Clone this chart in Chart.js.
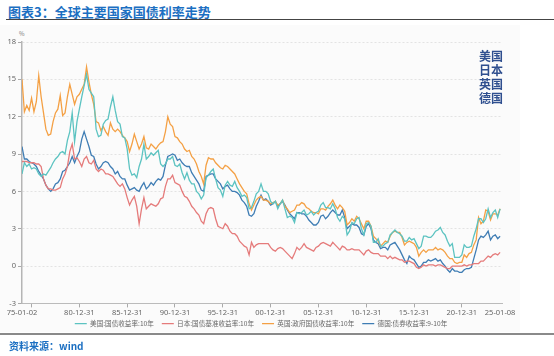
<!DOCTYPE html>
<html><head><meta charset="utf-8">
<script src="https://cdn.jsdelivr.net/npm/chart.js@4.4.1/dist/chart.umd.min.js"></script>
<style>
html,body{margin:0;padding:0;background:#fff;}
body{width:554px;height:356px;position:relative;overflow:hidden;font-family:"Noto Sans CJK SC","Noto Sans",sans-serif;}
#title{position:absolute;left:8px;top:2px;font-size:13px;font-weight:bold;color:#1b6fc2;white-space:nowrap;}
#rule{position:absolute;left:6px;top:19px;width:548px;height:0;border-top:1.5px solid #444;}
#bg{position:absolute;left:0;top:25px;width:520px;height:307px;background:#fbfbfb;}
#wrap{position:absolute;left:0;top:0;width:554px;height:356px;}
#foot{position:absolute;left:0;top:333px;width:554px;height:0;border-top:2.5px solid #8a8a8a;}
#src{position:absolute;left:9px;top:338px;font-size:10px;font-weight:bold;color:#1b6fc2;white-space:nowrap;}
#note{position:absolute;left:479px;top:49px;font-size:12px;font-weight:bold;color:#2f4f8f;line-height:14px;}
#unit{position:absolute;left:19px;top:29px;font-size:6px;color:#777;}
</style></head>
<body>
<div id="bg"></div>
<div id="title">图表3：全球主要国家国债利率走势</div>
<div id="rule"></div>
<div id="unit">%</div>
<div id="wrap"><canvas id="c" width="554" height="356"></canvas></div>
<div id="note">美国<br>日本<br>英国<br>德国</div>
<div id="foot"></div>
<div id="src">资料来源：wind</div>
<script>
// quarterly observations starting 1975 Q1
const startYear = 1975;
const seriesNames = ['美国:国债收益率:10年','日本:国债基准收益率:10年','英国:政府国债收益率:10年','德国:债券收益率:9-10年'];
const usYield = [7.4,8.3,8.0,8.2, 7.8,7.9,7.8,7.4, 7.2,7.4,7.3,7.6, 7.9,8.3,8.6,8.8, 9.1,9.2,9.0,10.1,
 10.8,12.3,10.0,11.6, 12.6,13.6,14.5,15.4, 14.2,13.9,13.6,11.0, 10.4,10.5,11.4,11.7, 11.8,12.8,13.6,12.5,
 11.6,11.4,10.4,10.3, 9.4,7.8,7.3,7.4, 7.1,8.0,8.6,9.8, 8.6,8.8,9.1,8.9, 9.1,9.3,8.2,8.0,
 8.2,8.6,8.6,8.8, 8.1,8.0,8.2,7.5, 7.0,7.5,6.9,6.6, 6.6,6.0,5.8,5.4, 5.7,7.1,7.3,7.6,
 7.8,7.0,6.3,6.1, 5.6,6.5,6.8,6.5, 6.4,6.8,6.3,6.0, 5.6,5.7,5.5,4.6, 4.7,5.2,5.8,6.0,
 6.6,6.0,6.0,5.8, 5.2,5.0,5.2,4.6, 5.0,5.3,4.6,3.9, 4.0,3.9,3.5,4.3, 4.2,4.3,4.5,4.1,
 4.2,4.4,4.1,4.3, 4.4,4.9,5.1,4.7, 4.7,4.6,5.0,4.6, 3.9,3.6,4.0,3.8, 2.5,2.8,3.5,3.4,
 3.8,3.9,3.0,2.5, 3.4,3.5,3.2,1.9, 1.9,2.2,1.6,1.6, 1.8,1.9,2.5,2.7, 2.9,2.7,2.6,2.4,
 2.0,2.0,2.3,2.1, 2.2,1.8,1.4,1.6, 2.4,2.4,2.3,2.3, 2.5,2.8,2.9,3.1, 2.7,2.5,2.0,1.6,
 1.8,0.7,0.7,0.7, 0.9,1.7,1.5,1.5, 1.6,2.4,3.0,3.8, 3.8,3.5,3.8,4.6, 3.9,4.3,4.5,3.9, 4.6];
const jpYield = [8.4,8.4,8.4,8.3, 8.3,8.3,8.2,8.2, 8.0,7.0,6.5,6.2, 6.2,6.1,6.1,6.2, 6.3,7.0,7.4,8.0,
 9.2,9.8,8.6,8.7, 8.4,8.0,8.6,8.8, 8.3,8.2,8.5,7.8, 7.6,7.8,7.7,7.4, 7.4,7.3,7.2,6.9,
 6.6,6.4,6.6,6.2, 5.5,4.9,5.3,5.6, 4.8,3.4,4.6,5.5, 4.6,4.8,5.0,4.9, 4.8,5.0,5.4,5.5,
 6.4,7.0,7.0,7.3, 6.7,6.6,6.5,6.0, 5.6,5.5,5.2,4.8, 4.6,4.3,4.1,3.6, 3.4,4.2,4.6,4.7,
 4.6,3.8,3.2,3.1, 3.0,3.4,3.2,2.8, 2.6,2.6,2.4,2.0, 1.8,1.6,1.5,0.9, 1.9,1.5,1.7,1.8,
 1.8,1.8,1.8,1.8, 1.5,1.3,1.2,1.4, 1.5,1.4,1.2,1.0, 0.8,0.6,1.0,1.5, 1.3,1.5,1.8,1.5,
 1.4,1.3,1.2,1.5, 1.6,1.8,1.9,1.8, 1.7,1.6,1.9,1.7, 1.5,1.3,1.6,1.5, 1.3,1.3,1.4,1.3,
 1.3,1.3,1.1,0.9, 1.2,1.3,1.1,1.0, 1.0,1.0,0.8,0.8, 0.8,0.6,0.8,0.6, 0.7,0.6,0.5,0.5,
 0.3,0.4,0.4,0.3, 0.2,-0.1,-0.2,-0.1, 0.1,0.0,0.1,0.1, 0.1,0.0,0.1,0.1, 0.0,-0.1,-0.2,-0.2,
 0.0,0.0,0.0,0.0, 0.0,0.1,0.0,0.1, 0.1,0.2,0.2,0.2, 0.4,0.4,0.6,0.8, 0.7,0.9,1.0,0.9, 1.1];
const ukYield = [15.0,12.4,12.9,12.5, 13.5,12.4,13.2,15.3, 13.6,12.3,11.0,10.5, 10.6,11.6,12.3,12.6, 13.7,12.1,12.3,13.6,
 14.6,13.8,13.0,13.6, 13.8,14.2,14.6,16.0, 14.8,13.8,13.0,11.6, 11.5,10.9,11.2,10.8, 10.5,11.5,11.0,10.8,
 11.0,10.8,10.5,10.3, 10.0,9.2,9.8,10.6, 10.0,9.4,9.8,10.4, 9.5,9.4,9.8,9.6, 9.4,9.7,9.9,10.0,
 10.8,12.0,11.4,11.2, 10.4,10.3,10.0,9.8, 9.4,9.2,9.3,8.8, 8.6,8.2,7.6,7.2, 6.6,8.1,8.7,8.6,
 8.6,8.3,8.1,7.9, 7.8,8.1,8.0,7.8, 7.6,7.4,7.0,6.6, 6.3,6.0,5.8,5.0, 4.5,4.9,5.3,5.5,
 5.6,5.3,5.3,5.2, 5.0,5.1,5.2,4.9, 5.0,5.3,4.8,4.6, 4.3,4.4,4.5,4.9, 4.9,5.1,5.0,4.7,
 4.6,4.4,4.3,4.3, 4.2,4.6,4.6,4.5, 4.8,5.0,5.3,4.9, 4.6,4.9,4.7,4.4, 3.3,3.5,3.8,3.6,
 4.0,3.8,3.4,3.0, 3.6,3.6,3.2,2.4, 2.2,2.0,1.6,1.8, 2.0,1.9,2.4,2.7, 2.8,2.7,2.7,2.3,
 1.7,1.9,2.0,1.9, 1.8,1.5,0.8,1.1, 1.3,1.1,1.3,1.3, 1.3,1.5,1.3,1.4, 1.3,1.1,0.8,0.6,
 0.6,0.3,0.2,0.3, 0.3,0.9,0.7,1.0, 1.1,1.7,2.1,3.9, 3.4,3.6,4.5,4.4, 3.7,4.2,4.2,4.1, 4.6];
const deYield = [9.6,8.6,8.6,8.4, 8.3,8.2,8.0,7.6, 7.3,7.0,6.5,6.2, 6.0,6.2,6.6,6.7, 7.0,7.6,7.7,8.0,
 8.3,8.8,8.3,8.8, 9.2,10.2,10.8,10.2, 9.6,8.9,8.8,8.2, 7.8,8.0,8.3,8.4, 8.3,8.0,7.8,7.4,
 7.6,7.2,7.0,7.0, 6.5,6.1,6.2,6.3, 6.1,6.0,6.4,6.7, 6.2,6.4,6.7,6.5, 6.8,7.0,6.9,7.2,
 8.1,8.8,8.9,9.0, 8.9,8.5,8.6,8.3, 8.1,8.0,8.0,7.5, 7.2,6.9,6.6,6.1, 6.0,7.2,7.3,7.4,
 7.4,7.0,6.8,6.6, 6.2,6.4,6.5,6.2, 6.0,6.0,5.9,5.7, 5.3,5.1,4.8,4.1, 4.0,4.2,4.8,5.2,
 5.7,5.3,5.4,5.2, 4.9,5.0,5.2,4.8, 5.0,5.2,4.9,4.5, 4.2,4.0,3.8,4.3, 4.3,4.2,4.2,4.0,
 3.7,3.5,3.3,3.3, 3.5,4.0,4.1,3.8, 4.0,4.3,4.5,4.3, 4.1,4.1,4.5,3.9, 3.0,3.2,3.4,3.3,
 3.3,3.1,2.6,2.5, 3.2,3.4,3.0,2.1, 1.9,1.8,1.4,1.5, 1.5,1.3,1.7,1.8, 1.9,1.6,1.3,0.9,
 0.5,0.2,0.8,0.6, 0.5,0.2,-0.1,0.0, 0.3,0.3,0.5,0.4, 0.5,0.6,0.4,0.5, 0.2,0.0,-0.3,-0.5,
 -0.2,-0.4,-0.4,-0.5, -0.5,-0.3,-0.2,-0.2, -0.1,0.6,1.3,2.1, 2.4,2.3,2.5,2.8, 2.1,2.4,2.5,2.2, 2.4];
const xTickValues = [1975.0, 1976.0, 1981.0, 1986.0, 1991.0, 1996.0, 2001.0, 2006.0, 2011.0, 2016.0, 2021.0, 2025.0];
const xTickLabels = ['75-01-02','','80-12-31','85-12-31','90-12-31','95-12-31','00-12-31','05-12-31','10-12-31','15-12-31','20-12-31','25-01-08'];
const yTicks = [-3,0,3,6,9,12,15,18];

const colors = ['#5cc3c1','#e57b7b','#f4a044','#3f7db4'];
const allSeries = [usYield, jpYield, ukYield, deYield];
function toPoints(arr){ return arr.map((v,i)=>({x: startYear + i*0.25, y: v})); }

// nudge the legend box (position only) to match the reference placement
const legendNudge = {
  id: 'legendNudge',
  afterLayout(chart) {
    const lg = chart.legend;
    if (!lg) return;
    lg.top -= 5; lg.bottom -= 5; lg.left += 10; lg.right += 10;
  }
};

new Chart(document.getElementById('c'), {
  type: 'line',
  data: {
    datasets: allSeries.map((s,k)=>({
      label: seriesNames[k], data: toPoints(s), borderColor: colors[k], backgroundColor: colors[k],
      borderWidth: 1.3, pointRadius: 0, tension: 0, pointStyle: 'line', fill: false
    }))
  },
  options: {
    responsive: false, animation: false, events: [],
    layout: { padding: { left: 0, top: 42, right: 52, bottom: 14 } },
    plugins: {
      tooltip: { enabled: false },
      legend: {
        position: 'bottom',
        labels: { usePointStyle: true, pointStyle: 'line', pointStyleWidth: 12, boxHeight: 6,
          padding: 8, color: '#666', font: { size: 6.6, family: '"Noto Sans CJK SC", sans-serif' } }
      }
    },
    scales: {
      x: {
        type: 'linear', min: 1975.0, max: 2025.2,
        afterBuildTicks: (sc) => { sc.ticks = xTickValues.map(v=>({value: v})); },
        afterFit: (sc) => { sc.height = 14; },
        grid: { drawOnChartArea: false, drawTicks: true, tickLength: 4,
          tickColor: (c) => (c.tick && (c.tick.value === 2025.0 || c.tick.value === 1975.0)) ? 'rgba(0,0,0,0)' : '#aaa' },
        border: { display: true, color: '#bbb', width: 1 },
        ticks: { autoSkip: false, maxRotation: 0, minRotation: 0, padding: 1, color: '#666',
          font: { size: 7.5, family: '"Noto Sans", sans-serif' },
          callback: (v) => { const i = xTickValues.indexOf(v); return i >= 0 ? xTickLabels[i] : ''; } }
      },
      y: {
        min: -3, max: 18,
        afterBuildTicks: (sc) => { sc.ticks = yTicks.map(v=>({value: v})); },
        afterFit: (sc) => { sc.width = 22; },
        grid: { color: '#e3e3e3', drawTicks: true, tickLength: 4, tickColor: '#aaa', tickBorderDash: [] },
        border: { display: true, color: '#b5b5b5', width: 1.5, dash: [2,2] },
        ticks: { padding: 2, color: '#666', font: { size: 7.5, family: '"Noto Sans", sans-serif' } }
      }
    }
  },
  plugins: [legendNudge]
});
</script>
</body></html>
